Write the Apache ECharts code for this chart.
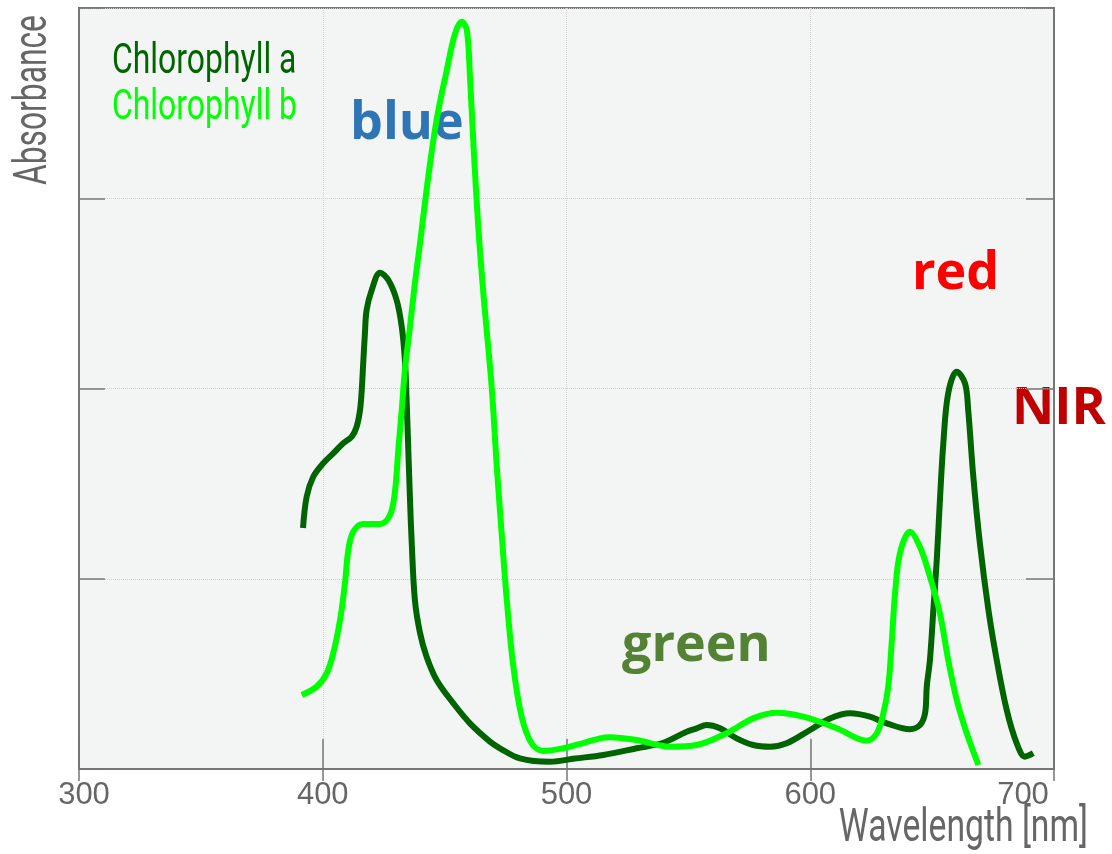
<!DOCTYPE html>
<html>
<head>
<meta charset="utf-8">
<script src="https://cdn.jsdelivr.net/npm/echarts@6/dist/echarts.min.js"></script>
<style>
  html, body { margin: 0; padding: 0; background: #ffffff; }
  #chart { width: 1112px; height: 854px; }
</style>
</head>
<body>
<div id="chart"></div>
<script>
// ---- data ----
const seriesNames = ['Chlorophyll a', 'Chlorophyll b'];

const wavelengthA = [391.9, 393.4, 396.1, 400.2, 404.3, 408.4, 411.9, 413.9, 415.3, 416.0, 416.6, 417.3, 418.0,
  420.1, 423.5, 426.9, 430.3, 432.4, 433.7, 434.4, 435.1, 435.8, 436.5, 437.8, 439.9, 442.6, 446.7, 453.6,
  460.4, 468.6, 472.7, 480.9, 493.2, 503.5, 515.1, 528.8, 539.7, 549.3, 553.4, 557.5, 563.0, 569.8, 576.6,
  583.5, 590.3, 599.9, 608.1, 616.3, 624.5, 631.4, 640.9, 645.0, 647.1, 647.8, 649.1, 650.5, 651.9, 653.2,
  654.6, 656.6, 660.1, 663.5, 664.8, 666.9, 669.6, 673.1, 676.5, 680.6, 684.7, 688.1, 691.5];
const absorbA = [1.267, 1.431, 1.536, 1.607, 1.659, 1.712, 1.747, 1.799, 1.887, 1.992, 2.132, 2.290, 2.413,
  2.518, 2.609, 2.570, 2.465, 2.325, 2.150, 1.940, 1.677, 1.414, 1.188, 0.888, 0.715, 0.590, 0.468, 0.345,
  0.240, 0.144, 0.109, 0.056, 0.038, 0.055, 0.074, 0.109, 0.138, 0.196, 0.214, 0.231, 0.214, 0.161, 0.126,
  0.117, 0.135, 0.205, 0.266, 0.293, 0.275, 0.240, 0.209, 0.231, 0.293, 0.433, 0.573, 0.836, 1.099, 1.414,
  1.712, 1.975, 2.088, 2.027, 1.887, 1.536, 1.186, 0.836, 0.573, 0.310, 0.135, 0.065, 0.083];

const wavelengthB = [391.4, 397.5, 401.6, 404.3, 407.1, 409.1, 410.5, 412.5, 416.6, 423.5, 427.6, 429.6, 431.0,
  432.4, 433.7, 435.8, 437.8, 439.9, 443.3, 446.7, 450.9, 454.3, 457.0, 459.1, 460.4, 461.8, 463.8, 465.9,
  469.3, 471.4, 473.4, 475.5, 478.2, 481.6, 485.7, 490.5, 498.7, 504.7, 513.7, 517.8, 528.8, 542.5, 553.4,
  565.7, 576.6, 586.2, 597.2, 610.9, 623.2, 627.3, 630.0, 632.0, 633.4, 634.8, 636.8, 640.9, 645.0, 649.1,
  653.2, 656.6, 660.1, 664.2, 669.0];
const absorbB = [0.389, 0.433, 0.503, 0.608, 0.783, 0.976, 1.151, 1.247, 1.288, 1.288, 1.335, 1.456, 1.677,
  1.887, 2.097, 2.325, 2.553, 2.763, 3.113, 3.411, 3.674, 3.867, 3.928, 3.884, 3.639, 3.289, 2.850, 2.500,
  2.009, 1.589, 1.239, 0.888, 0.538, 0.275, 0.135, 0.095, 0.109, 0.129, 0.161, 0.167, 0.152, 0.117, 0.126,
  0.188, 0.266, 0.296, 0.275, 0.214, 0.149, 0.188, 0.293, 0.433, 0.661, 0.924, 1.134, 1.247, 1.168, 1.011,
  0.818, 0.573, 0.363, 0.188, 0.021];

const xTicks = { min: 300, max: 700, step: 100 };
const yTicks = { min: 0, max: 4, step: 1 };
const xName = 'Wavelength [nm]';
const yName = 'Absorbance';
const bandLabels = ['blue', 'red', 'NIR', 'green'];

// ---- chart ----
const condensed = "Roboto, 'Liberation Sans', sans-serif";
const tickFont = "'Liberation Sans', Roboto, sans-serif";
const boldFont = "'Open Sans', 'Noto Sans', sans-serif";
const grey = '#666666';
const axisGrey = '#777777';
const colorA = '#006400';
const colorB = '#00ff00';

const zip = (xs, ys) => xs.map((x, i) => [x, ys[i]]);

const chart = echarts.init(document.getElementById('chart'), null, { renderer: 'canvas' });

const option = {
  animation: false,
  backgroundColor: '#ffffff',
  grid: {
    left: 79, top: 8, width: 975, height: 761,
    containLabel: false, outerBoundsMode: 'none',
    show: true, backgroundColor: '#f3f5f4', borderColor: axisGrey, borderWidth: 2
  },
  xAxis: [
    {
      type: 'value', position: 'bottom',
      min: xTicks.min, max: xTicks.max, interval: xTicks.step,
      axisLine: { show: true, lineStyle: { color: axisGrey, width: 2 } },
      axisTick: { show: true, inside: true, length: 30, lineStyle: { color: axisGrey, width: 1.5 } },
      axisLabel: {
        margin: 11, fontFamily: tickFont, fontSize: 31, color: grey,
        formatter: function (v) {
          if (v === xTicks.max) return '{r|' + v + '}';
          if (v === xTicks.min) return '{l|' + v + '}';
          return String(v);
        },
        rich: {
          r: { fontFamily: tickFont, fontSize: 31, color: grey, padding: [0, 62, 0, 0] },
          l: { fontFamily: tickFont, fontSize: 31, color: grey, padding: [0, 0, 0, 10] }
        }
      },
      splitLine: { show: true, lineStyle: { color: '#cfcfcf', type: 'dotted', width: 1 } }
    },
    {
      type: 'value', position: 'top',
      min: xTicks.min, max: xTicks.max, interval: xTicks.step,
      axisLine: { show: true, lineStyle: { color: axisGrey, width: 2 } },
      axisTick: { show: true, inside: true, length: 12, lineStyle: { color: axisGrey, width: 1.5 } },
      axisLabel: { show: false },
      splitLine: { show: false }
    }
  ],
  yAxis: [
    {
      type: 'value', position: 'left',
      min: yTicks.min, max: yTicks.max, interval: yTicks.step,
      axisLine: { show: true, lineStyle: { color: axisGrey, width: 2 } },
      axisTick: { show: true, inside: true, length: 26, lineStyle: { color: axisGrey, width: 1.5 } },
      axisLabel: { show: false },
      splitLine: { show: true, lineStyle: { color: '#cfcfcf', type: 'dotted', width: 1 } }
    },
    {
      type: 'value', position: 'right',
      min: yTicks.min, max: yTicks.max, interval: yTicks.step,
      axisLine: { show: true, lineStyle: { color: axisGrey, width: 2 } },
      axisTick: { show: true, inside: true, length: 28, lineStyle: { color: axisGrey, width: 1.5 } },
      axisLabel: { show: false },
      splitLine: { show: false }
    }
  ],
  series: [
    {
      name: seriesNames[0], type: 'line', xAxisIndex: 0, yAxisIndex: 0,
      data: zip(wavelengthA, absorbA),
      showSymbol: false, smooth: 0.35,
      color: colorA,
      lineStyle: { color: colorA, width: 6, cap: 'butt', join: 'round' },
      zlevel: 1, z: 3
    },
    {
      name: seriesNames[1], type: 'line', xAxisIndex: 0, yAxisIndex: 0,
      data: zip(wavelengthB, absorbB),
      showSymbol: false, smooth: 0.35,
      color: colorB,
      lineStyle: { color: colorB, width: 6, cap: 'butt', join: 'round' },
      zlevel: 1, z: 4
    }
  ],
  graphic: [
    // legend texts (condensed look via horizontal scale)
    {
      type: 'text', x: 112, y: 62, scaleX: 0.76,
      style: { text: seriesNames[0], fontFamily: condensed, fontSize: 42, fill: colorA, align: 'left', verticalAlign: 'middle' }
    },
    {
      type: 'text', x: 112, y: 108, scaleX: 0.76,
      style: { text: seriesNames[1], fontFamily: condensed, fontSize: 42, fill: colorB, align: 'left', verticalAlign: 'middle' }
    },
    // axis titles
    {
      type: 'text', x: 34, y: 100, rotation: Math.PI / 2, scaleX: 0.69,
      style: { text: yName, fontFamily: condensed, fontSize: 46, fill: grey, align: 'center', verticalAlign: 'middle' }
    },
    {
      type: 'text', x: 1088, y: 829, scaleX: 0.733,
      style: { text: xName, fontFamily: condensed, fontSize: 46, fill: grey, align: 'right', verticalAlign: 'middle' }
    },
    // band annotations (beneath the spectra, as in the reference)
    {
      type: 'text', x: 350, y: 124,
      style: { text: bandLabels[0], fontFamily: boldFont, fontWeight: 'bold', fontSize: 52, fill: '#2e75b6', align: 'left', verticalAlign: 'middle' }
    },
    {
      type: 'text', x: 912, y: 274,
      style: { text: bandLabels[1], fontFamily: boldFont, fontWeight: 'bold', fontSize: 52, fill: '#ff0000', align: 'left', verticalAlign: 'middle' }
    },
    {
      type: 'text', x: 1012, y: 409,
      style: { text: bandLabels[2], fontFamily: boldFont, fontWeight: 'bold', fontSize: 52, fill: '#c00000', align: 'left', verticalAlign: 'middle' }
    },
    {
      type: 'text', x: 622, y: 646,
      style: { text: bandLabels[3], fontFamily: boldFont, fontWeight: 'bold', fontSize: 52, fill: '#548235', align: 'left', verticalAlign: 'middle' }
    }
  ]
};

chart.setOption(option);
</script>
</body>
</html>
